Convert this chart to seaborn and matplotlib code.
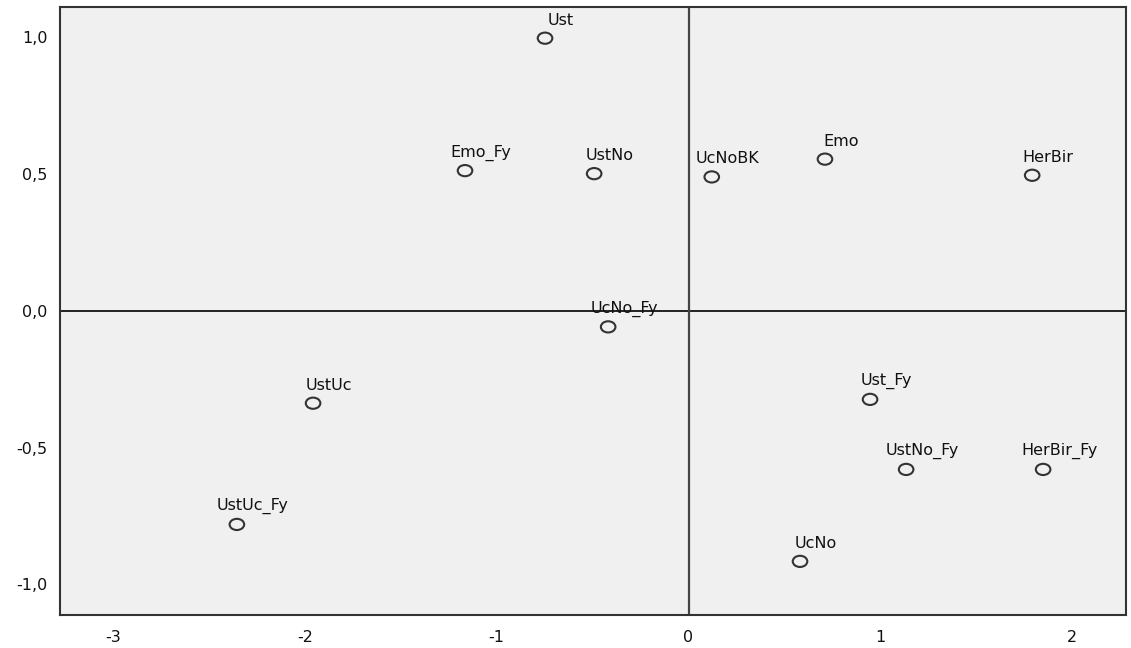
import matplotlib
matplotlib.use("Agg")
import matplotlib.pyplot as plt
import matplotlib.path as mpath
import matplotlib.transforms as mtrans
import seaborn as sns
import pandas as pd
import numpy as np

labels = ["Ust", "Emo_Fy", "UstNo", "UcNoBK", "Emo", "HerBir", "UcNo_Fy",
          "UstUc", "Ust_Fy", "UstNo_Fy", "HerBir_Fy", "UstUc_Fy", "UcNo"]
dim1 = [-0.748, -1.165, -0.492, 0.121, 0.711, 1.791, -0.419,
        -1.957, 0.946, 1.134, 1.848, -2.354, 0.581]
dim2 = [0.996, 0.512, 0.501, 0.489, 0.554, 0.495, -0.059,
        -0.338, -0.324, -0.580, -0.580, -0.781, -0.916]

x_ticks = [-3, -2, -1, 0, 1, 2]
y_ticks = [-1.0, -0.5, 0.0, 0.5, 1.0]
y_tick_labels = ["-1,0", "-0,5", "0,0", "0,5", "1,0"]

df = pd.DataFrame({"label": labels, "x": dim1, "y": dim2})

sns.set_style("white")
plt.rcParams["font.family"] = ["DejaVu Sans"]

fig = plt.figure(figsize=(11.31, 6.48), dpi=100)
ax = fig.add_axes([60 / 1131, 1 - 615 / 648, (1126 - 60) / 1131, (615 - 7) / 648])
ax.set_facecolor("#f0f0f0")

ax.axhline(0, color="#222222", lw=1.4, zorder=1)
ax.axvline(0, color="#444444", lw=1.6, zorder=1)

# slightly wide ellipse marker
circ = mpath.Path.unit_circle()
ell = circ.transformed(mtrans.Affine2D().scale(1.3, 1.0))

sns.scatterplot(data=df, x="x", y="y", ax=ax, marker=ell, s=110,
                facecolor="none", edgecolor="#333333", linewidth=1.5, zorder=3)

for lab, xv, yv in zip(labels, dim1, dim2):
    ax.annotate(lab, (xv, yv), xytext=(11.5, 13), textcoords="offset points",
                ha="center", va="center", fontsize=11.5, color="#111111", zorder=4)

ax.set_xlim(-3.276, 2.28)
ax.set_ylim(-1.112, 1.11)
ax.set_xticks(x_ticks)
ax.set_xticklabels([str(t) for t in x_ticks])
ax.set_yticks(y_ticks)
ax.set_yticklabels(y_tick_labels)
ax.tick_params(axis="both", direction="out", length=6, width=1.5,
               color="#333333", labelsize=11.5, labelcolor="#111111", pad=3)
ax.tick_params(axis="x", pad=5)
ax.set_xlabel("")
ax.set_ylabel("")
for sp in ax.spines.values():
    sp.set_color("#333333")
    sp.set_linewidth(1.5)

fig.savefig("out.png", dpi=100, facecolor="white")
